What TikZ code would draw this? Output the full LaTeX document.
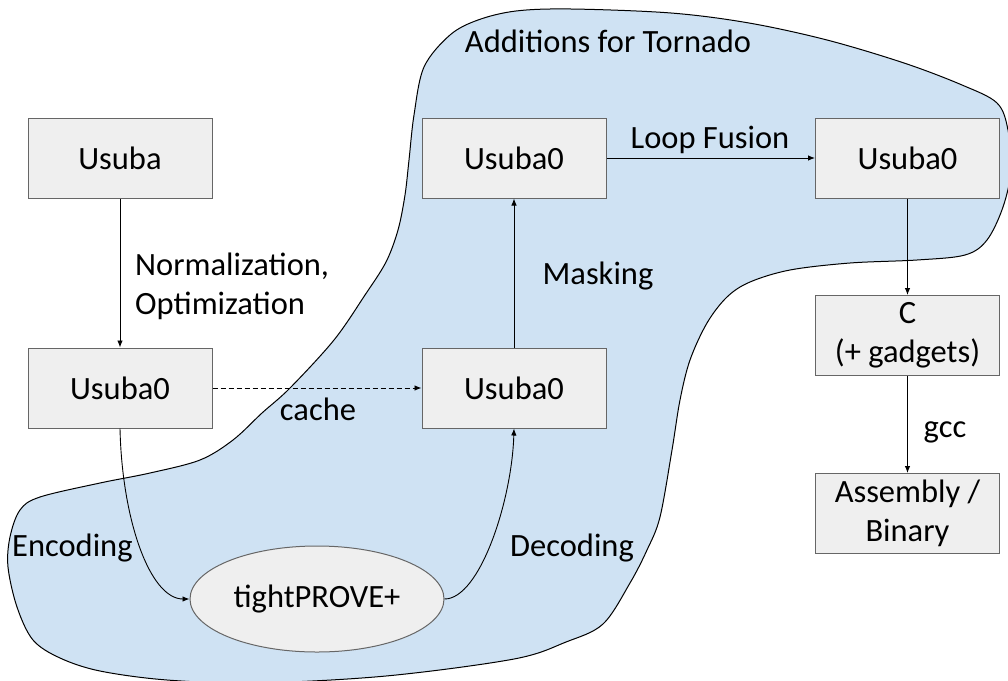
\documentclass[tikz,border=0pt]{standalone}
\usepackage{fontspec}
\setmainfont{Carlito}
\usetikzlibrary{shapes.geometric,arrows.meta}
\definecolor{blobblue}{HTML}{CFE2F3}
\definecolor{boxfill}{HTML}{EFEFEF}
\definecolor{boxdraw}{HTML}{666666}
\begin{document}
\begin{tikzpicture}[x=1pt,y=-1pt, font=\fontsize{32.5}{39}\selectfont,
  box/.style={draw=boxdraw, fill=boxfill, line width=1pt, minimum width=184pt, minimum height=80pt, inner sep=0pt, align=center},
  conn/.style={line width=0.9pt, -{Latex[length=7pt,width=5.5pt]}},
  lbl/.style={inner sep=0pt}]
\useasboundingbox (0,0) rectangle (1008,680);
\draw[fill=blobblue, line width=1pt] plot[smooth cycle, tension=0.55] coordinates {
 (424,67) (450,35) (478,20) (516,11) (571,9) (671,13) (749,23) (827,40) (904,63) (962,85) (997,103) (1008,130) (1011,170) (1003,207) (987,240) (965,255) (917,260) (850,263) (790,270) (750,282) (727,297) (707,323) (690,360) (680,400) (672,450) (660,517) (647,550) (630,583) (603,624) (566,642) (514,659) (386,676) (257,683) (167,680) (100,671) (60,658) (33,640) (17,607) (8,567) (10,537) (20,510) (40,497) (100,483) (150,473) (200,460) (233,440) (262,413) (290,388) (334,340) (365,295) (386,262) (398,230) (405,195) (409,160) (414,115)};
\node[box] (usuba) at (120,158) {Usuba};
\node[box] (u0l) at (120,388) {Usuba0};
\node[box] (u0b) at (514,388) {Usuba0};
\node[box] (u0t) at (514,158) {Usuba0};
\node[box] (u0r) at (907.5,158) {Usuba0};
\node[box] (c) at (907.5,335.5) {C\\(+ gadgets)};
\node[box] (asm) at (907.5,513.5) {Assembly /\\Binary};
\node[draw=boxdraw, fill=boxfill, line width=1pt, ellipse, minimum width=254pt, minimum height=106pt, inner sep=0pt] (tp) at (317,599) {tightPROVE+};
\draw[conn] (usuba) -- (u0l);
\draw[conn, dash pattern=on 5pt off 3pt] (u0l) -- (u0b);
\draw[conn] (u0b) -- (u0t);
\draw[conn] (u0t) -- (u0r);
\draw[conn] (u0r) -- (c);
\draw[conn] (c) -- (asm);
\draw[conn] (u0l.south) .. controls (122,520) and (150,599) .. (tp.west);
\draw[conn] (tp.east) .. controls (480,599) and (512,500) .. (u0b.south);
\node[lbl] (tornado) at (608,41) {Additions for Tornado};
\node[lbl] (loop) at (710,140) {Loop Fusion};
\node[lbl, anchor=west, align=left] (norm) at (135,286) {Normalization,\\Optimization};
\node[lbl] (mask) at (598,276) {Masking};
\node[lbl] (cache) at (318,409) {cache};
\node[lbl] (gcc) at (945,432) {gcc};
\node[lbl, anchor=west] (enc) at (12,548) {Encoding};
\node[lbl] (dec) at (572,548) {Decoding};
\end{tikzpicture}
\end{document}
